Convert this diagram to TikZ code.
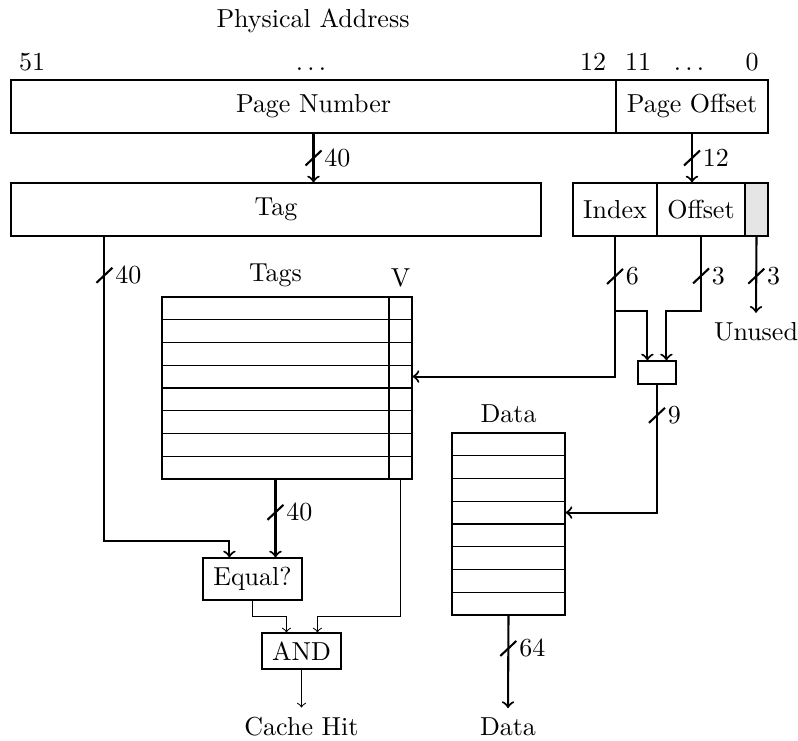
\documentclass[tikz,border=0pt]{standalone}
\usetikzlibrary{calc}
\def\pxu{0.3846pt}
\begin{document}
\begin{tikzpicture}[x=0.3846pt,y=-0.3846pt,
  box/.style={draw, inner sep=0pt, line width=0.45pt},
  sz/.style 2 args={minimum width=#1*\pxu, minimum height=#2*\pxu},
  bus/.style={line width=0.8pt},
  wire/.style={line width=0.4pt},
  lbl/.style={inner sep=0pt, anchor=west, xshift=3.8pt},
  slash/.pic={\draw[-,line width=0.8pt] (-8,7.5) -- (8,-7.5);},
  txt/.style={anchor=base}]
\useasboundingbox (0,0) rectangle (798,740);

% boxes
\node[box, sz={605}{53}] (pn) at (313.5,106.5) {Page Number};
\node[box, sz={152}{53}] (po) at (692,106.5) {Page Offset};
\node[box, sz={530}{53}] (tag) at (276,209.5) {Tag};
\node[box, sz={84}{53}] (idx) at (615,209.5) {Index};
\node[box, sz={88}{53}] (off) at (701,209.5) {Offset};
\node[box, fill=gray!20, sz={23}{53}] (unu) at (756.5,209.5) {};
\node[box, sz={227}{182}] (tags) at (275.5,388) {};
\node[box, sz={23}{182}] (vcol) at (400.5,388) {};
\node[box, sz={38}{23}] (mux) at (657,372.5) {};
\node[box, sz={113}{182}] (data) at (508.5,524) {};
\node[box, sz={99}{42}] (eq) at (252.5,579) {Equal?};
\node[box, sz={79}{36}] (and) at (301.5,651) {AND};

% table rows
\foreach \i [evaluate=\i as \f using \i/8] in {1,...,7} {
  \draw[box] ($(tags.north west)!\f!(tags.south west)$) -- ($(vcol.north east)!\f!(vcol.south east)$);
  \draw[box] ($(data.north west)!\f!(data.south west)$) -- ($(data.north east)!\f!(data.south east)$);
}

% texts
\node[txt] (title) at (313,27) {Physical Address};
\node[anchor=south] (b51) at (32,80) {51};
\node[anchor=south] (bdots1) at (311,80) {$\ldots$};
\node[anchor=south] (b12) at (593,80) {12};
\node[anchor=south] (b11) at (638,80) {11};
\node[anchor=south] (bdots2) at (689,80) {$\ldots$};
\node[anchor=south] (b0) at (752,80) {0};
\node[anchor=south] (tagslbl) at (tags.north) {Tags};
\node[anchor=south] (vlbl) at (vcol.north) {V};
\node[anchor=south] (datalbl) at (data.north) {Data};
\node[txt] (unused) at (756,340) {Unused};
\node[txt] (cachehit) at (301.5,735) {Cache Hit};
\node[txt] (dataout) at (508,735) {Data};

% helper coordinates
\coordinate (tagtap) at ($(tag.south west)+(94,0)$);
\coordinate (eqin1) at ($(eq.north west)+(27,0)$);
\coordinate (eqjoin) at ($(eqin1)+(0,-16)$);
\coordinate (andin1) at ($(and.north west)+(25,0)$);
\coordinate (andin2) at ($(and.north west)+(56,0)$);
\coordinate (andjoin) at ($(and.north)+(0,-16)$);
\coordinate (muxin1) at ($(mux.north west)+(10,0)$);
\coordinate (muxin2) at ($(mux.north west)+(29,0)$);
\coordinate (muxjoin) at ($(mux.north)+(0,-49)$);
\coordinate (vrow) at ($(vcol.north east)!0.4375!(vcol.south east)$);
\coordinate (drow) at ($(data.north east)!0.4375!(data.south east)$);

% connectors
\draw[bus,->] (pn.south) -- (pn.south |- tag.north) pic[pos=0.5]{slash} node[lbl,pos=0.5]{40};
\draw[bus,->] (po.south) -- (po.south |- off.north) pic[pos=0.5]{slash} node[lbl,pos=0.5]{12};
\draw[bus,->] (tagtap) -- (tagtap |- eqjoin) pic[pos=0.127]{slash} node[lbl,pos=0.127]{40} -- (eqjoin) -- (eqin1);
\draw[bus,->] (tags.south) -- (tags.south |- eq.north) pic[pos=0.42]{slash} node[lbl,pos=0.42]{40};
\draw[wire,->] (eq.south) -- (eq.south |- andjoin) -| (andin1);
\draw[wire,->] (vcol.south) -- (vcol.south |- andjoin) -| (andin2);
\draw[wire,->] (and.south) -- (cachehit.north);
\draw[bus,->] (data.south) -- (dataout.north) pic[pos=0.355]{slash} node[lbl,pos=0.355]{64};
\draw[bus,->] (idx.south) -- (idx.south |- vrow) pic[pos=0.285]{slash} node[lbl,pos=0.285]{6} -- (vrow);
\draw[bus,->] (idx.south |- muxjoin) -| (muxin1);
\draw[bus,->] (off.south) -- (off.south |- muxjoin) pic[pos=0.526]{slash} node[lbl,pos=0.526]{3} -| (muxin2);
\draw[bus,->] (unu.south) -- (unused.north) pic[pos=0.52]{slash} node[lbl,pos=0.52]{3};
\draw[bus,->] (mux.south) -- (mux.south |- drow) pic[pos=0.24]{slash} node[lbl,pos=0.24]{9} -- (drow);
\end{tikzpicture}
\end{document}
